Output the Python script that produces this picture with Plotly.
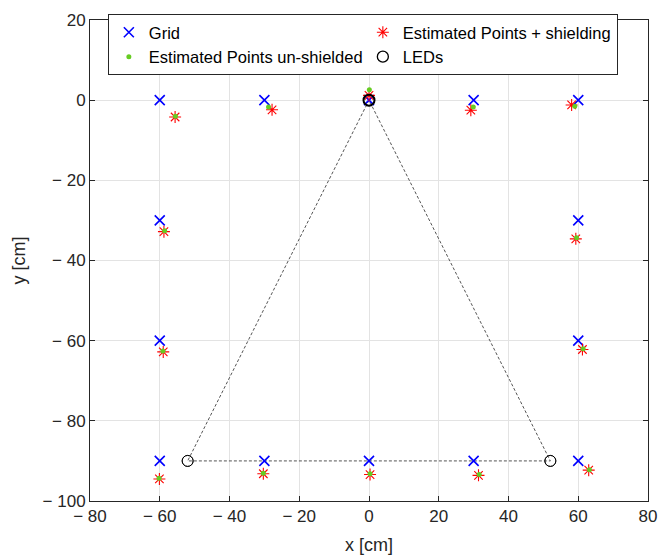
import plotly.graph_objects as go

# Grid (true positions)
grid_x = [-60, -30, 0, 30, 60, -60, 60, -60, 60, -60, -30, 0, 30, 60]
grid_y = [0, 0, 0, 0, 0, -30, -30, -60, -60, -90, -90, -90, -90, -90]

# Estimated points with shielding
shield_x = [-55.6, -27.8, 0.0, 29.2, 58.1, -58.8, 59.3, -59.0, 61.2, -60.1, -30.3, 0.3, 31.4, 63.0]
shield_y = [-4.2, -2.4, 1.2, -2.5, -1.2, -32.8, -34.6, -62.8, -62.2, -94.5, -93.2, -93.4, -93.6, -92.3]

# Estimated points un-shielded
unsh_x = [-55.5, -28.8, 0.1, 29.9, 59.0, -58.6, 59.5, -59.1, 61.4, -60.2, -30.3, 0.3, 31.6, 63.2]
unsh_y = [-4.0, -1.7, 2.6, -1.7, -1.5, -32.6, -34.3, -62.6, -62.0, -94.3, -93.1, -93.2, -93.4, -92.2]

# LEDs
led_x = [0, -52, 52]
led_y = [0, -90, -90]

# Triangle connecting LEDs (closed)
tri_x = [0, -52, 52, 0]
tri_y = [0, -90, -90, 0]

x_ticks = [-80, -60, -40, -20, 0, 20, 40, 60, 80]
x_ticktext = ["\u2212 80", "\u2212 60", "\u2212 40", "\u2212 20", "0", "20", "40", "60", "80"]
y_ticks = [-100, -80, -60, -40, -20, 0, 20]
y_ticktext = ["\u2212 100", "\u2212 80", "\u2212 60", "\u2212 40", "\u2212 20", "0", "20"]

FONT = "Liberation Sans, Arial, sans-serif"

fig = go.Figure()

fig.add_trace(go.Scatter(
    x=tri_x, y=tri_y, mode="lines+markers", showlegend=False,
    line=dict(color="#555555", width=1, dash="3px,2px"),
    marker=dict(symbol="circle-open", size=11, color="#555555", line=dict(width=1)),
    hoverinfo="skip"))

fig.add_trace(go.Scatter(
    x=grid_x, y=grid_y, mode="markers", name="Grid",
    marker=dict(symbol="x-thin", size=10, line=dict(color="#0000ff", width=1.6), color="#0000ff")))

fig.add_trace(go.Scatter(
    x=shield_x, y=shield_y, mode="markers", name="Estimated Points + shielding",
    marker=dict(symbol="asterisk-open", size=10, line=dict(color="#ff1a1a", width=1.1), color="#ff0000")))

fig.add_trace(go.Scatter(
    x=unsh_x, y=unsh_y, mode="markers", name="Estimated Points un-shielded",
    marker=dict(symbol="circle", size=5, color="#66cc22")))

fig.add_trace(go.Scatter(
    x=led_x, y=led_y, mode="markers", name="LEDs",
    marker=dict(symbol="circle-open", size=11, color="#000000",
                line=dict(color=["#000000", "#555555", "#555555"], width=[2, 1, 1]))))

axis_common = dict(
    showline=True, linecolor="#262626", linewidth=1, mirror="ticks",
    ticks="inside", ticklen=5, tickcolor="#262626",
    showgrid=True, gridcolor="#e3e3e3", gridwidth=1, zeroline=False,
    tickfont=dict(family=FONT, size=17, color="#262626"),
    automargin=False,
)

fig.update_xaxes(range=[-80, 80], tickvals=x_ticks, ticktext=x_ticktext,
                 title=dict(text="x [cm]", font=dict(family=FONT, size=18, color="#262626"), standoff=12),
                 **axis_common)
fig.update_yaxes(range=[-100, 20], tickvals=y_ticks, ticktext=y_ticktext,
                 title=dict(text="y [cm]", font=dict(family=FONT, size=18, color="#262626"), standoff=12),
                 **axis_common)

fig.update_layout(
    width=661, height=558,
    margin=dict(l=90, r=13, t=20, b=57),
    plot_bgcolor="white", paper_bgcolor="white",
    font=dict(family=FONT, color="#262626"),
    legend=dict(
        orientation="h", x=0.032, y=1.0125, xanchor="left", yanchor="top",
        bgcolor="white", bordercolor="#262626", borderwidth=1,
        font=dict(family=FONT, size=16.5, color="#000000"),
        entrywidth=209, entrywidthmode="pixels",
        tracegroupgap=0, itemwidth=30,
    ),
)

fig.write_html("out.html")
